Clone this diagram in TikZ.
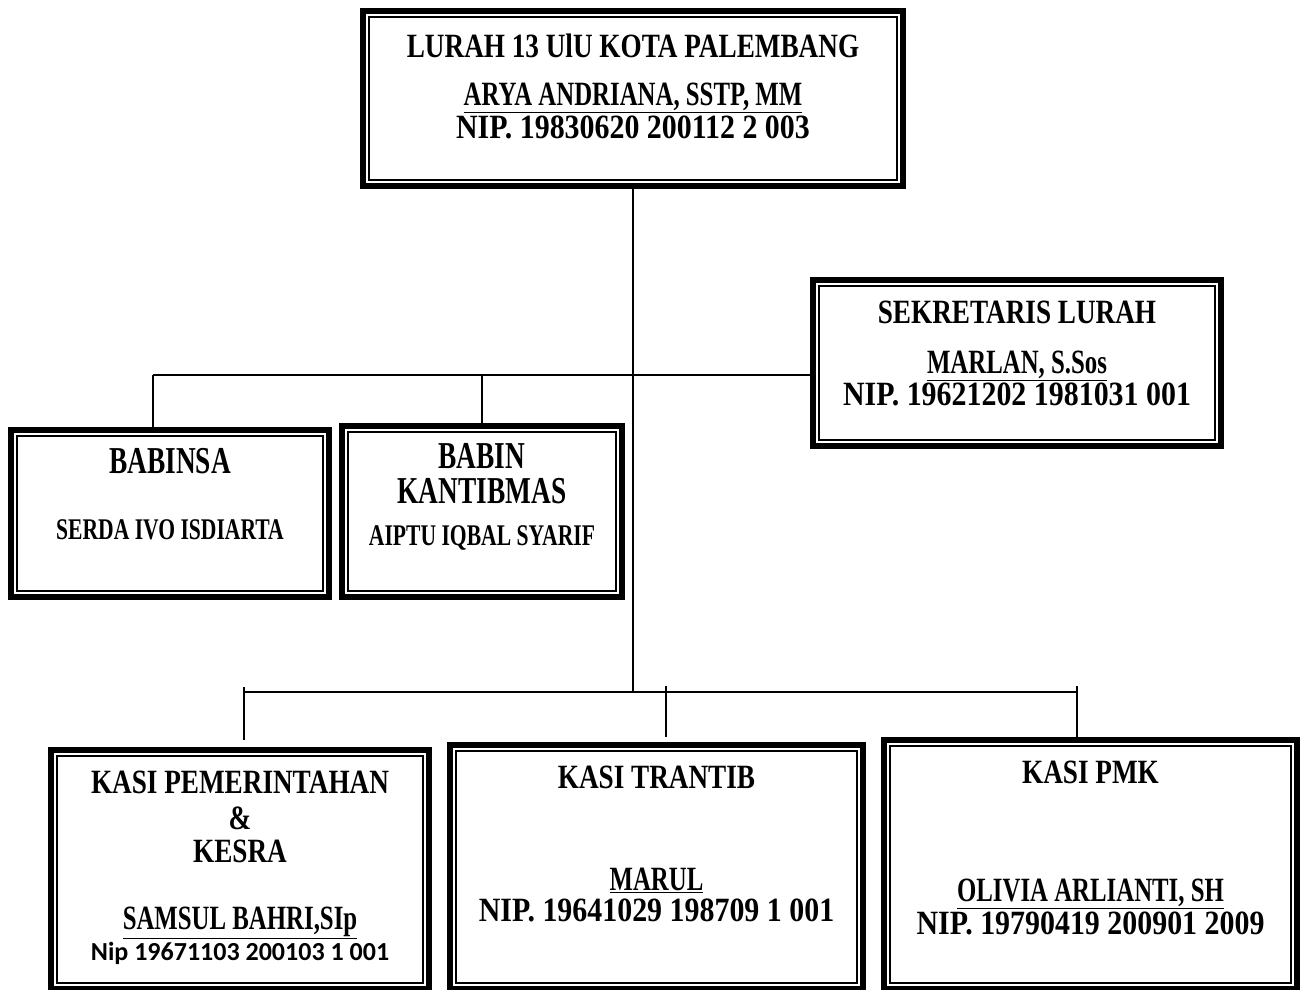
\documentclass[tikz,border=0pt]{standalone}
\usepackage{fontspec}
\setmainfont{Liberation Serif}
\newfontfamily\cambfont[FakeStretch=0.8]{Liberation Serif}
\newfontfamily\namefont[FakeStretch=0.73]{Liberation Serif}
\newfontfamily\nipfont[FakeStretch=0.88]{Liberation Serif}
\newfontfamily\timesfont[FakeStretch=0.72]{Liberation Serif}
\newfontfamily\calfont{Carlito}
\usetikzlibrary{positioning,calc}
\newcommand{\uname}[1]{\vtop{\hbox{\namefont #1}\kern0.7pt\hrule height 0.75pt}}
\newcommand{\nip}[1]{{\nipfont #1}}

\begin{document}
\begin{tikzpicture}[
    x=0.5pt, y=-0.5pt,
    orgbox/.style={rectangle, draw, line width=3.2pt, inner sep=0pt},
    innerline/.style={line width=0.8pt},
    boxtext/.style={font=\cambfont\bfseries\fontsize{17}{15}\selectfont, align=center, inner sep=0pt},
    police/.style={font=\timesfont\bfseries\fontsize{19}{15}\selectfont, align=center, inner sep=0pt},
    link/.style={line width=0.75pt}
]
\useasboundingbox (0,0) rectangle (1304,989);

% Boxes
\node[orgbox, minimum width=270pt, minimum height=87.5pt] (lurah) at (633,98.5) {};
\node[orgbox, minimum width=204pt, minimum height=83pt] (sekretaris) at (1017,363) {};
\node[orgbox, minimum width=159pt, minimum height=83.5pt] (babinsa) at (170,513.5) {};
\node[orgbox, minimum width=140pt, minimum height=85.5pt] (babin) at (482,511.5) {};
\node[orgbox, minimum width=189pt, minimum height=119.5pt] (pemerintahan) at (240,869.5) {};
\node[orgbox, minimum width=206.5pt, minimum height=122pt] (trantib) at (656.5,867) {};
\node[orgbox, minimum width=206.5pt, minimum height=124.5pt] (pmk) at (1090.5,864.5) {};

% Inner frames
\foreach \n in {lurah,sekretaris,babinsa,babin,pemerintahan,trantib,pmk}
  \draw[innerline] ($(\n.south west)+(4.5pt,4.5pt)$) rectangle ($(\n.north east)-(4.5pt,4.5pt)$);

% Texts
\node[boxtext, below=12.75pt of lurah.north] (lurahtxt) {LURAH 13 UlU KOTA PALEMBANG\\[9pt]\uname{ARYA ANDRIANA, SSTP, MM}\\\nip{NIP. 19830620 200112 2 003}};
\node[boxtext, below=11.75pt of sekretaris.north] (sekretaristxt) {SEKRETARIS LURAH\\[10pt]\uname{MARLAN, S.Sos}\\\nip{NIP. 19621202 1981031 001}};
\node[police, below=10.5pt of babinsa.north] (babinsatxt) {BABINSA\\[18pt]{\fontsize{15}{15}\selectfont SERDA IVO ISDIARTA}};
\node[police, below=10pt of babin.north] (babintxt) {BABIN\\[2.5pt]KANTIBMAS\\[6pt]{\fontsize{15}{15}\selectfont AIPTU IQBAL SYARIF}};
\node[boxtext, below=11.75pt of pemerintahan.north] (pemerintahantxt) {KASI PEMERINTAHAN\\[3pt]\&\\[1.5pt]KESRA\\[18.5pt]\uname{SAMSUL BAHRI,SIp}\\[0.5pt]{\calfont\fontsize{13}{15}\selectfont Nip 19671103 200103 1 001}};
\node[boxtext, below=11.75pt of trantib.north] (trantibtxt) {KASI TRANTIB\\[36pt]\uname{MARUL}\\[0.5pt]\nip{NIP. 19641029 198709 1 001}};
\node[boxtext, below=11.75pt of pmk.north] (pmktxt) {KASI PMK\\[44pt]\uname{OLIVIA ARLIANTI, SH}\\[0.5pt]\nip{NIP. 19790419 200901 2009}};

% Lines
\coordinate (upperbar) at (153,375);
\coordinate (lowerbar) at (244,692);
\coordinate (lowerend) at (1077,692);
\coordinate (trantibdrop) at (666,686);
\draw[link] (lurah.south) -- (lurah.south |- lowerbar);
\draw[link] (upperbar) -- (sekretaris.west |- upperbar);
\draw[link] (upperbar) -- (upperbar |- babinsa.north);
\draw[link] (babin.north) -- (babin.north |- upperbar);
\draw[link] (lowerbar) -- (lowerend);
\draw[link] ($(lowerbar)+(0,-5)$) -- ($(pemerintahan.north -| lowerbar)+(0,-7)$);
\draw[link] (trantibdrop) -- ($(trantibdrop |- trantib.north)+(0,-5)$);
\draw[link] ($(lowerend)+(0,-6)$) -- (lowerend |- pmk.north);
\end{tikzpicture}
\end{document}
